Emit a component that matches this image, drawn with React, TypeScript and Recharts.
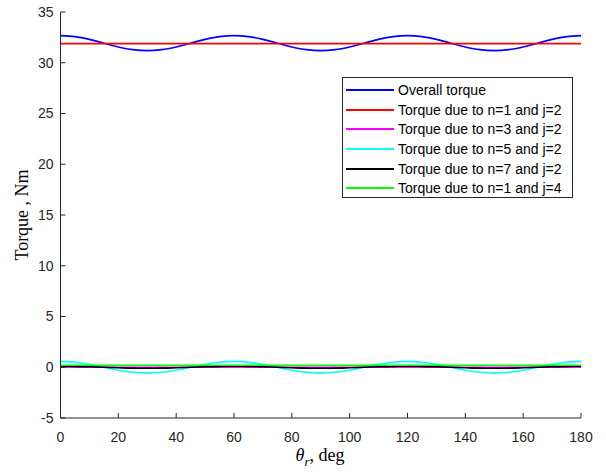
import React from 'react';
import { LineChart, Line, XAxis, YAxis } from 'recharts';

// Rotor angle samples, deg
const thetaDeg = [
  0, 5, 10, 15, 20, 25, 30, 35, 40, 45, 50, 55, 60, 65, 70, 75, 80, 85, 90,
  95, 100, 105, 110, 115, 120, 125, 130, 135, 140, 145, 150, 155, 160, 165, 170, 175, 180,
];

// Overall torque, Nm
const overallTorque = [
  32.67, 32.57, 32.3, 31.93, 31.56, 31.29, 31.19, 31.29, 31.56, 31.93, 32.3, 32.57,
  32.67, 32.57, 32.3, 31.93, 31.56, 31.29, 31.19, 31.29, 31.56, 31.93, 32.3, 32.57,
  32.67, 32.57, 32.3, 31.93, 31.56, 31.29, 31.19, 31.29, 31.56, 31.93, 32.3, 32.57,
  32.67,
];

// Torque due to n=5, j=2 (ripple component), Nm
const torqueN5J2 = [
  0.58, 0.5, 0.29, 0, -0.29, -0.5, -0.58, -0.5, -0.29, 0, 0.29, 0.5,
  0.58, 0.5, 0.29, 0, -0.29, -0.5, -0.58, -0.5, -0.29, 0, 0.29, 0.5,
  0.58, 0.5, 0.29, 0, -0.29, -0.5, -0.58, -0.5, -0.29, 0, 0.29, 0.5,
  0.58,
];

// Torque due to n=7, j=2, Nm
const torqueN7J2 = [
  0.1, 0.09, 0.05, 0, -0.05, -0.09, -0.1, -0.09, -0.05, 0, 0.05, 0.09,
  0.1, 0.09, 0.05, 0, -0.05, -0.09, -0.1, -0.09, -0.05, 0, 0.05, 0.09,
  0.1, 0.09, 0.05, 0, -0.05, -0.09, -0.1, -0.09, -0.05, 0, 0.05, 0.09,
  0.1,
];

// Constant components, Nm
const torqueN1J2 = 31.88;
const torqueN3J2 = 0.0;
const torqueN1J4 = 0.2;

const xTicks = [0, 20, 40, 60, 80, 100, 120, 140, 160, 180];
const yTicks = [-5, 0, 5, 10, 15, 20, 25, 30, 35];

const seriesInfo = [
  { key: 'overall', name: 'Overall torque', color: '#0000ff' },
  { key: 'n1j2', name: 'Torque due to n=1 and j=2', color: '#ff0000' },
  { key: 'n3j2', name: 'Torque due to n=3 and j=2', color: '#ff00ff' },
  { key: 'n5j2', name: 'Torque due to n=5 and j=2', color: '#00ffff' },
  { key: 'n7j2', name: 'Torque due to n=7 and j=2', color: '#000000' },
  { key: 'n1j4', name: 'Torque due to n=1 and j=4', color: '#00ff00' },
];

const rows = thetaDeg.map((t, i) => ({
  theta: t,
  overall: overallTorque[i],
  n1j2: torqueN1J2,
  n3j2: torqueN3J2,
  n5j2: torqueN5J2[i],
  n7j2: torqueN7J2[i],
  n1j4: torqueN1J4,
}));

const sansFont = '"Liberation Sans", Arial, Helvetica, sans-serif';
const serifFont = '"Liberation Serif", "Times New Roman", serif';
const axisColor = '#262626';

const LegendBox = () => (
  <div
    style={{
      position: 'absolute',
      left: 342,
      top: 77,
      width: 231,
      height: 121,
      border: '1px solid #262626',
      background: '#ffffff',
      boxSizing: 'border-box',
      paddingTop: 2,
    }}
  >
    {seriesInfo.map((s) => (
      <div
        key={s.key}
        style={{ display: 'flex', alignItems: 'center', height: 19.7, fontFamily: sansFont, fontSize: 14, color: '#000' }}
      >
        <div style={{ width: 48, height: 0, borderTop: `2px solid ${s.color}`, marginLeft: 3, marginRight: 4 }} />
        <span style={{ whiteSpace: 'nowrap' }}>{s.name}</span>
      </div>
    ))}
  </div>
);

const YLabel = () => (
  <text
    x={22}
    y={215}
    transform="rotate(-90 22 215)"
    textAnchor="middle"
    dominantBaseline="central"
    fontFamily={serifFont}
    fontSize={18}
    fill="#000"
  >
    Torque , Nm
  </text>
);

const XLabel = () => (
  <text x={320} y={461} textAnchor="middle" fontFamily={serifFont} fontSize={18} fill="#000">
    <tspan fontStyle="italic">θ</tspan>
    <tspan fontStyle="italic" fontSize={13} dy={5}>r</tspan>
    <tspan dy={-5}>, deg</tspan>
  </text>
);

export default function App() {
  return (
    <div style={{ position: 'absolute', left: 0, top: 0, width: 606, height: 474, background: '#ffffff' }}>
      <LineChart width={606} height={474} data={rows} margin={{ top: 12, right: 25, bottom: 0, left: 0 }}>
        <XAxis
          xAxisId="b"
          dataKey="theta"
          type="number"
          domain={[0, 180]}
          ticks={xTicks}
          interval={0}
          orientation="bottom"
          height={56}
          tickSize={-5}
          tickMargin={19}
          stroke={axisColor}
          tick={{ fill: axisColor, fontSize: 14, fontFamily: sansFont }}
          label={<XLabel />}
        />
        <XAxis
          xAxisId="t"
          dataKey="theta"
          type="number"
          domain={[0, 180]}
          ticks={xTicks}
          interval={0}
          orientation="top"
          height={0}
          tickSize={-5}
          tick={false}
          stroke={axisColor}
        />
        <YAxis
          yAxisId="l"
          type="number"
          domain={[-5, 35]}
          ticks={yTicks}
          interval={0}
          width={60.5}
          tickSize={-5}
          tickMargin={12}
          stroke={axisColor}
          tick={{ fill: axisColor, fontSize: 14, fontFamily: sansFont }}
          label={<YLabel />}
        />
        <YAxis
          yAxisId="r"
          orientation="right"
          type="number"
          domain={[-5, 35]}
          ticks={yTicks}
          interval={0}
          width={0}
          tickSize={-5}
          tick={false}
          stroke={axisColor}
        />
        {seriesInfo.map((s) => (
          <Line
            key={s.key}
            xAxisId="b"
            yAxisId="l"
            dataKey={s.key}
            name={s.name}
            type="monotone"
            stroke={s.color}
            strokeWidth={1.6}
            dot={false}
            activeDot={false}
            isAnimationActive={false}
          />
        ))}
      </LineChart>
      <LegendBox />
    </div>
  );
}
